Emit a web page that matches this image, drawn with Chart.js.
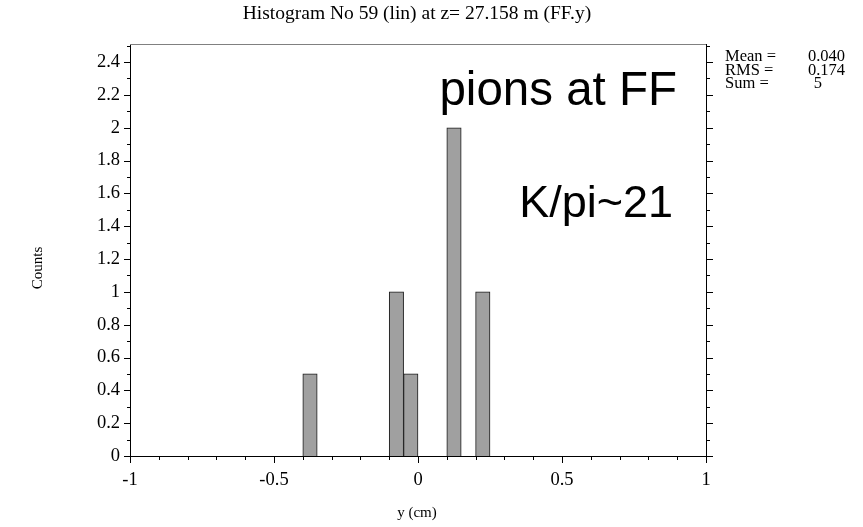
<!DOCTYPE html>
<html>
<head>
<meta charset="utf-8">
<script src="https://cdn.jsdelivr.net/npm/chart.js@4/dist/chart.umd.min.js"></script>
<style>
  html, body { margin: 0; padding: 0; background: #fff; }
  #wrap { width: 863px; height: 527px; }
</style>
</head>
<body>
<div id="wrap"><canvas id="histo" width="863" height="527"></canvas></div>
<script>
// histogram bins that have entries (bin width 0.05 cm)
const binCenters = [-0.375, -0.075, -0.025, 0.125, 0.225];
const counts = [0.5, 1, 0.5, 2, 1];

const xTickStep = 0.5;
const yTickStep = 0.2;
const xRange = [-1, 1];
const yRange = [0, 2.51];

const titleText = 'Histogram No 59 (lin) at z= 27.158 m (FF.y)';
const xTitle = 'y (cm)';
const yTitle = 'Counts';
const statNames = ['Mean =', 'RMS =', 'Sum ='];
const statValues = ['0.040', '0.174', '5'];
const notes = ['pions at FF', 'K/pi~21'];

const serif = '"Liberation Serif", "Times New Roman", serif';
const sans = '"Liberation Sans", Arial, sans-serif';

// frame, minor ticks and all the free text
const decorations = {
    id: 'decorations',
    afterDraw(chart) {
        const c = chart.ctx;
        const a = chart.chartArea;
        const xs = chart.scales.x;
        const ys = chart.scales.y;
        c.save();
        // top + right frame
        c.lineWidth = 1;
        c.strokeStyle = '#808080';
        c.beginPath();
        c.moveTo(a.left, a.top + 0.5);
        c.lineTo(a.right, a.top + 0.5);
        c.stroke();
        c.strokeStyle = '#000';
        c.beginPath();
        c.moveTo(a.right + 0.5, a.top);
        c.lineTo(a.right + 0.5, a.bottom);
        c.stroke();

        // x ticks (every 0.1, longer at 0.5)
        c.beginPath();
        for (let i = -10; i <= 10; i++) {
            const px = Math.round(xs.getPixelForValue(i / 10)) + 0.5;
            const len = (i % 5 === 0) ? 7 : 4;
            c.moveTo(px, a.bottom);
            c.lineTo(px, a.bottom + len);
        }
        // y ticks left and right (every 0.1, longer at 0.2)
        for (let i = 0; i <= 25; i++) {
            const py = Math.round(ys.getPixelForValue(i / 10)) + 0.5;
            const major = i % 2 === 0;
            c.moveTo(a.left, py);
            c.lineTo(a.left - (major ? 6 : 3), py);
            c.moveTo(a.right, py);
            c.lineTo(a.right + (major ? 7 : 4), py);
        }
        c.stroke();

        // title and axis titles
        c.fillStyle = '#000';
        c.font = '19.5px ' + serif;
        c.textAlign = 'center';
        c.textBaseline = 'middle';
        c.fillText(titleText, 417, 14);
        c.font = '15px ' + serif;
        c.fillText(xTitle, 417, 513);
        c.save();
        c.translate(38, 268);
        c.rotate(-Math.PI / 2);
        c.fillText(yTitle, 0, 0);
        c.restore();

        // stats box
        c.font = '16.5px ' + serif;
        c.textAlign = 'left';
        statNames.forEach((s, i) => c.fillText(s, 725, 57 + i * 13.3));
        c.textAlign = 'right';
        c.fillText(statValues[0], 845, 57);
        c.fillText(statValues[1], 845, 70.3);
        c.fillText(statValues[2], 822, 83.6);

        // annotations
        c.textAlign = 'right';
        c.textBaseline = 'alphabetic';
        c.font = '47.5px ' + sans;
        c.fillText(notes[0], 677, 105);
        c.font = '45px ' + sans;
        c.fillText(notes[1], 673, 217);
        c.restore();
    }
};

const ctx = document.getElementById('histo').getContext('2d');
const chart = new Chart(ctx, {
    type: 'bar',
    data: {
        datasets: [{
            data: binCenters.map((x, i) => ({ x: x, y: counts[i] })),
            backgroundColor: '#a0a0a0',
            borderColor: '#1a1a1a',
            borderWidth: 1,
            barPercentage: 1,
            categoryPercentage: 1
        }]
    },
    options: {
        responsive: false,
        animation: false,
        layout: { padding: { top: 44, right: 157, left: 0, bottom: 0 } },
        plugins: { legend: { display: false }, tooltip: { enabled: false } },
        scales: {
            x: {
                type: 'linear',
                min: xRange[0],
                max: xRange[1],
                offset: false,
                grid: { display: false, drawTicks: false, offset: false },
                border: { display: true, color: '#000', width: 1 },
                ticks: {
                    stepSize: xTickStep,
                    padding: 13,
                    color: '#000',
                    font: { family: serif, size: 18.5 },
                    maxRotation: 0,
                    callback: v => String(+v.toFixed(1))
                },
                afterFit: s => { s.height = 71; }
            },
            y: {
                min: yRange[0],
                max: yRange[1],
                grid: { display: false, drawTicks: false },
                border: { display: true, color: '#000', width: 1 },
                ticks: {
                    stepSize: yTickStep,
                    includeBounds: false,
                    padding: 10,
                    color: '#000',
                    font: { family: serif, size: 18.5 },
                    callback: v => String(+v.toFixed(1))
                },
                afterFit: s => { s.width = 130; }
            }
        }
    },
    plugins: [decorations]
});
</script>
</body>
</html>
